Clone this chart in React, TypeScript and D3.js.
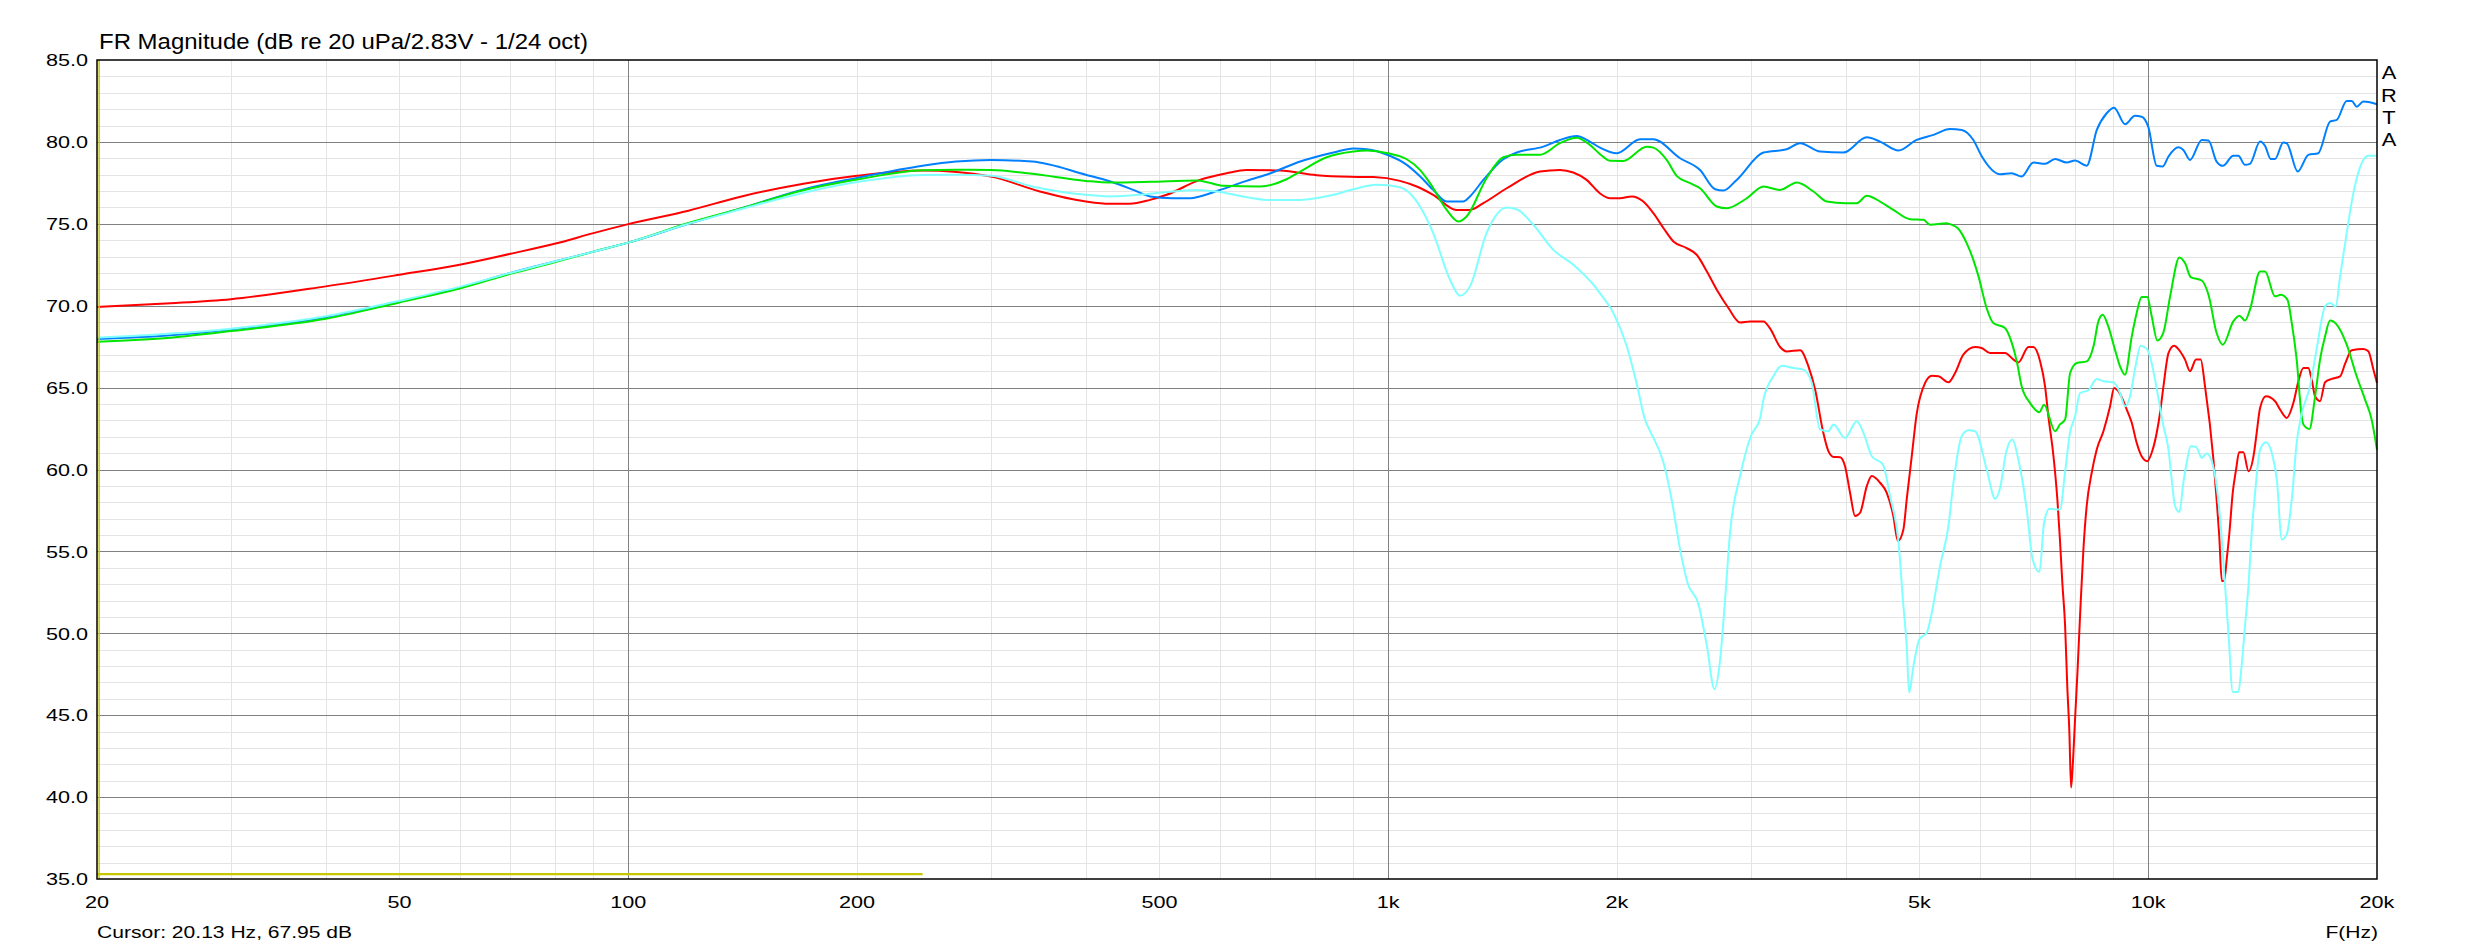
import { useEffect, useRef } from "react";
import * as d3 from "d3";

type Pt = [number, number];

// frequency response curves, [Hz, dB]
const blueCurve: Pt[] = [
  [20, 67.97], [25, 68.2], [30, 68.55], [40, 69.3], [50, 70.25], [60, 71.1], [70, 72.0], [80, 72.7], [90, 73.3],
  [100, 73.85], [120, 75.0], [141, 75.95], [170, 77.1], [200, 77.8], [244, 78.55], [270, 78.8], [300, 78.9],
  [340, 78.8], [400, 78.0], [430, 77.6], [462, 77.07], [486, 76.67], [520, 76.56], [549, 76.56], [565, 76.67],
  [601, 77.07], [651, 77.62], [700, 78.09], [766, 78.8], [800, 79.06], [847, 79.35], [900, 79.6], [937, 79.55],
  [999, 79.2], [1058, 78.6], [1101, 77.9], [1146, 77.07], [1194, 76.36], [1255, 76.36], [1281, 76.67],
  [1334, 77.68], [1417, 78.94], [1476, 79.35], [1600, 79.71], [1683, 80.12], [1770, 80.36], [1842, 80.02],
  [1900, 79.65], [1999, 79.31], [2145, 80.16], [2233, 80.16], [2421, 79.0], [2572, 78.29], [2693, 77.11],
  [2761, 77.03], [2874, 77.68], [3117, 79.35], [3344, 79.55], [3483, 79.92], [3701, 79.41], [3972, 79.35],
  [4263, 80.28], [4438, 80.02], [4693, 79.47], [4957, 80.12], [5218, 80.43], [5486, 80.79], [5684, 80.73],
  [5887, 80.12], [6041, 79.11], [6383, 78.03], [6611, 78.09], [6815, 77.89], [7062, 78.74], [7316, 78.66],
  [7543, 78.96], [7811, 78.74], [8010, 78.86], [8300, 78.54], [8558, 80.73], [8817, 81.75], [9018, 82.09],
  [9321, 81.08], [9604, 81.59], [9803, 81.54], [10000, 80.93], [10261, 78.54], [10451, 78.5], [10633, 79.11],
  [10957, 79.67], [11123, 79.51], [11350, 78.9], [11761, 80.12], [12003, 80.08], [12303, 78.8], [12536, 78.54],
  [12940, 79.15], [13139, 79.15], [13408, 78.6], [13610, 78.66], [14034, 80.02], [14247, 79.76], [14494, 78.96],
  [14686, 78.96], [15054, 79.96], [15213, 79.92], [15729, 78.19], [16244, 79.21], [16743, 79.31], [17348, 81.24],
  [17703, 81.34], [18246, 82.5], [18526, 82.5], [18806, 82.15], [19190, 82.46], [19482, 82.44], [20000, 82.3],
];

const greenCurve: Pt[] = [
  [20, 67.8], [25, 68.05], [30, 68.45], [40, 69.2], [50, 70.2], [60, 71.05], [70, 71.95], [80, 72.65], [90, 73.3],
  [100, 73.85], [120, 75.05], [141, 75.95], [170, 77.05], [200, 77.7], [244, 78.27], [270, 78.3], [300, 78.29],
  [340, 78.05], [400, 77.62], [430, 77.52], [486, 77.56], [560, 77.64], [580, 77.52], [607, 77.32], [678, 77.28],
  [735, 77.72], [766, 78.19], [830, 79.06], [900, 79.41], [937, 79.47], [999, 79.31], [1058, 78.94], [1101, 78.29],
  [1135, 77.48], [1194, 75.85], [1237, 75.14], [1268, 75.45], [1347, 77.78], [1417, 79.06], [1476, 79.21],
  [1584, 79.21], [1683, 79.92], [1770, 80.26], [1842, 79.82], [1900, 79.25], [1958, 78.85], [2039, 78.84],
  [2188, 79.71], [2233, 79.65], [2325, 78.9], [2396, 77.93], [2497, 77.48], [2572, 77.17], [2706, 76.06],
  [2789, 75.95], [2964, 76.56], [3117, 77.28], [3278, 77.07], [3448, 77.52], [3627, 76.97], [3776, 76.36],
  [4000, 76.26], [4135, 76.26], [4263, 76.71], [4438, 76.36], [4620, 75.85], [4861, 75.28], [5062, 75.24],
  [5164, 74.94], [5431, 75.04], [5486, 74.98], [5626, 74.7], [5769, 73.82], [5887, 72.8], [5980, 71.79],
  [6128, 69.86], [6255, 68.94], [6479, 68.64], [6611, 67.76], [6715, 66.6], [6815, 65.08], [6989, 64.07],
  [7192, 63.5], [7293, 63.96], [7543, 62.34], [7653, 62.75], [7774, 63.05], [7893, 65.89], [8053, 66.5],
  [8300, 66.6], [8472, 67.52], [8598, 69.04], [8711, 69.45], [8861, 68.74], [9041, 67.32], [9181, 66.3],
  [9321, 65.79], [9514, 68.13], [9656, 69.55], [9803, 70.53], [9972, 70.53], [10106, 69.35], [10281, 67.87],
  [10472, 68.37], [10686, 70.57], [10990, 72.95], [11180, 72.6], [11374, 71.75], [11761, 71.54], [12003, 70.67],
  [12303, 68.33], [12536, 67.62], [12940, 69.04], [13184, 69.39], [13408, 69.09], [13610, 69.76], [14034, 72.09],
  [14247, 72.09], [14686, 70.57], [14940, 70.67], [15245, 70.37], [15449, 68.94], [15680, 66.71], [15920, 63.25],
  [16002, 62.75], [16296, 62.48], [16580, 64.47], [16830, 66.71], [17089, 68.13], [17348, 69.09], [17703, 68.84],
  [18246, 67.62], [18806, 65.69], [19288, 64.27], [19677, 63.05], [20000, 61.2],
];

const redCurve: Pt[] = [
  [20, 69.92], [25, 70.15], [30, 70.4], [40, 71.18], [50, 71.89], [60, 72.5], [70, 73.17], [80, 73.78], [90, 74.43],
  [100, 74.98], [120, 75.8], [141, 76.67], [170, 77.45], [200, 77.93], [244, 78.25], [300, 77.89], [348, 76.97],
  [400, 76.36], [430, 76.22], [457, 76.22], [486, 76.46], [511, 76.77], [565, 77.68], [613, 78.09], [651, 78.29],
  [721, 78.25], [805, 77.97], [891, 77.87], [956, 77.85], [1036, 77.62], [1090, 77.28], [1146, 76.77], [1230, 75.85],
  [1281, 75.85], [1334, 76.26], [1432, 77.17], [1584, 78.19], [1683, 78.29], [1752, 78.13], [1824, 77.68],
  [1900, 76.85], [1958, 76.56], [2019, 76.56], [2091, 76.67], [2166, 76.36], [2233, 75.65], [2303, 74.73],
  [2373, 73.92], [2470, 73.52], [2546, 73.11], [2626, 72.09], [2706, 70.97], [2803, 69.86], [2904, 68.98],
  [2992, 69.04], [3117, 69.04], [3181, 68.6], [3278, 67.48], [3344, 67.21], [3483, 67.28], [3572, 66.3],
  [3645, 64.88], [3737, 62.24], [3795, 61.12], [3853, 60.77], [3931, 60.75], [3991, 60.2], [4052, 58.58],
  [4114, 57.16], [4177, 57.36], [4263, 58.99], [4328, 59.6], [4438, 59.19], [4529, 58.58], [4620, 57.16],
  [4684, 55.63], [4763, 56.34], [4811, 58.17], [4885, 60.81], [4957, 63.35], [5086, 65.28], [5191, 65.73],
  [5298, 65.69], [5459, 65.32], [5570, 65.89], [5711, 67.01], [5918, 67.48], [6038, 67.42], [6194, 67.11],
  [6479, 67.11], [6650, 66.71], [6749, 66.54], [6957, 67.48], [7062, 67.48], [7208, 66.6], [7316, 65.08],
  [7390, 63.25], [7505, 60.81], [7594, 58.17], [7653, 55.73], [7709, 53.09], [7774, 50.45], [7825, 46.79],
  [7876, 43.9], [7916, 40.59], [7955, 41.9], [8012, 44.76], [8070, 47.6], [8134, 51.06], [8217, 55.12],
  [8299, 57.77], [8426, 59.8], [8556, 61.22], [8731, 62.34], [8909, 63.86], [9018, 64.98], [9135, 64.78],
  [9371, 63.66], [9514, 62.85], [9656, 61.63], [9803, 60.81], [9972, 60.51], [10106, 61.02], [10261, 62.24],
  [10365, 63.46], [10472, 65.08], [10633, 67.11], [10813, 67.56], [11012, 67.22], [11180, 66.71], [11350, 66.0],
  [11560, 66.71], [11723, 66.71], [11878, 65.08], [12184, 60.61], [12303, 58.17], [12401, 55.94], [12498, 53.19],
  [12585, 53.19], [12685, 54.51], [12789, 56.14], [12918, 58.58], [13050, 60.0], [13170, 61.06], [13342, 61.06],
  [13549, 59.9], [13780, 61.02], [13890, 62.24], [14034, 63.76], [14285, 64.47], [14686, 64.17], [14911, 63.66],
  [15213, 63.15], [15525, 64.07], [15761, 65.39], [16002, 66.2], [16244, 66.2], [16409, 65.49], [16580, 64.47],
  [16830, 64.17], [17089, 65.33], [17440, 65.53], [17884, 65.69], [18159, 66.46], [18526, 67.28], [19190, 67.36],
  [19482, 67.22], [19783, 66.1], [20000, 65.28],
];

const cyanCurve: Pt[] = [
  [20, 68.05], [25, 68.3], [30, 68.6], [40, 69.35], [50, 70.3], [60, 71.15], [70, 72.0], [80, 72.7], [90, 73.3],
  [100, 73.85], [120, 75.0], [141, 75.9], [170, 76.9], [200, 77.55], [244, 77.98], [270, 78.0], [300, 77.93],
  [340, 77.28], [400, 76.77], [430, 76.67], [486, 76.83], [560, 77.07], [595, 76.97], [650, 76.63], [692, 76.46],
  [766, 76.46], [847, 76.77], [900, 77.11], [966, 77.38], [1036, 77.23], [1101, 76.06], [1146, 74.43],
  [1206, 71.58], [1243, 70.61], [1281, 71.18], [1347, 74.43], [1432, 76.0], [1476, 75.89], [1552, 74.94],
  [1649, 73.41], [1752, 72.5], [1862, 71.28], [1900, 70.75], [1978, 69.55], [2060, 67.52], [2122, 65.28],
  [2177, 63.05], [2211, 62.34], [2303, 60.41], [2360, 58.17], [2421, 55.12], [2476, 53.09], [2560, 51.77],
  [2626, 49.23], [2687, 46.59], [2734, 48.42], [2775, 52.07], [2817, 56.14], [2904, 59.6], [3000, 62.03],
  [3086, 63.15], [3117, 64.27], [3212, 65.69], [3295, 66.34], [3413, 66.2], [3519, 66.1], [3608, 65.28],
  [3701, 62.44], [3795, 62.34], [3853, 62.75], [3991, 61.93], [4135, 62.95], [4220, 62.24], [4328, 60.81],
  [4475, 60.31], [4574, 58.38], [4693, 55.53], [4763, 51.67], [4811, 49.23], [4846, 46.38], [4910, 48.0],
  [5000, 49.64], [5113, 50.04], [5191, 51.26], [5322, 54.11], [5459, 56.55], [5542, 59.19], [5683, 62.03],
  [5799, 62.4], [5918, 62.34], [6131, 60.0], [6289, 58.21], [6385, 58.88], [6500, 61.02], [6626, 61.83],
  [6747, 60.61], [6920, 57.56], [7047, 54.51], [7192, 53.74], [7294, 56.75], [7413, 57.6], [7655, 57.56],
  [7771, 59.8], [7889, 62.24], [8012, 63.25], [8134, 64.67], [8343, 64.84], [8556, 65.53], [8731, 65.39],
  [9000, 65.33], [9181, 64.67], [9321, 63.86], [9465, 64.47], [9604, 66.1], [9775, 67.56], [9957, 67.36],
  [10054, 66.91], [10208, 65.49], [10472, 62.64], [10633, 61.22], [10737, 59.39], [10846, 57.77], [10990, 57.4],
  [11123, 59.19], [11235, 60.4], [11374, 61.42], [11560, 61.38], [11761, 60.71], [11940, 60.98], [12123, 60.51],
  [12303, 58.99], [12458, 56.55], [12622, 52.89], [12751, 50.04], [12918, 46.42], [13139, 46.42], [13270, 48.0],
  [13408, 50.45], [13549, 52.89], [13683, 56.14], [13823, 58.58], [14034, 61.22], [14285, 61.67], [14539, 61.02],
  [14763, 59.39], [14990, 55.73], [15213, 56.04], [15449, 58.17], [15680, 61.63], [15920, 63.4], [16325, 65.08],
  [16653, 67.32], [17089, 69.96], [17348, 70.16], [17648, 69.96], [17884, 71.79], [18246, 74.43], [18617, 76.87],
  [19190, 78.9], [19482, 79.15], [20000, 79.15],
];

// cursor and marker level
const cursorHz = 20.13;
const cursorDb = 67.95;
const markerLevel: Pt[] = [[20, 35.3], [244, 35.3]];

const xTickLabels: [number, string][] = [
  [20, "20"], [50, "50"], [100, "100"], [200, "200"], [500, "500"],
  [1000, "1k"], [2000, "2k"], [5000, "5k"], [10000, "10k"], [20000, "20k"],
];
const yTicks = [35, 40, 45, 50, 55, 60, 65, 70, 75, 80, 85];
const majorHz = [100, 1000, 10000];

const W = 2473;
const H = 950;
const FONT = "'Liberation Sans', Arial, sans-serif";

export default function App() {
  const svgRef = useRef<SVGSVGElement | null>(null);

  useEffect(() => {
    const svgElement = svgRef.current;
    if (!svgElement) return;

    const margin = { top: 60, right: 96, bottom: 71, left: 97 };
    const left = margin.left;
    const right = W - margin.right;
    const top = margin.top;
    const bottom = H - margin.bottom;

    const svg = d3.select(svgElement);
    svg.selectAll("*").remove();

    const xScale = d3.scaleLog().domain([20, 20000]).range([left, right]);
    const yScale = d3.scaleLinear().domain([35, 85]).range([bottom, top]);
    const crisp = (v: number) => Math.round(v) + 0.5;

    svg.append("rect").attr("width", W).attr("height", H).attr("fill", "#fff");

    // grid: every decade step and every dB
    const gridHz: number[] = [];
    for (let dec = 10; dec <= 10000; dec *= 10) {
      for (let m = 1; m <= 9; m++) {
        const f = m * dec;
        if (f > 20 && f < 20000) gridHz.push(f);
      }
    }
    const gridDb = d3.range(36, 85);

    const grid = svg.append("g").attr("shape-rendering", "crispEdges");
    grid.selectAll(".vminor")
      .data(gridHz.filter((f) => !majorHz.includes(f)))
      .join("line")
      .attr("x1", (d) => crisp(xScale(d))).attr("x2", (d) => crisp(xScale(d)))
      .attr("y1", top).attr("y2", bottom)
      .attr("stroke", "#e4e4e4");
    grid.selectAll(".hminor")
      .data(gridDb.filter((d) => d % 5 !== 0))
      .join("line")
      .attr("x1", left).attr("x2", right)
      .attr("y1", (d) => crisp(yScale(d))).attr("y2", (d) => crisp(yScale(d)))
      .attr("stroke", "#e4e4e4");
    grid.selectAll(".hmajor")
      .data(yTicks.filter((d) => d > 35 && d < 85))
      .join("line")
      .attr("x1", left).attr("x2", right)
      .attr("y1", (d) => crisp(yScale(d))).attr("y2", (d) => crisp(yScale(d)))
      .attr("stroke", "#808080");
    grid.selectAll(".vmajor")
      .data(majorHz)
      .join("line")
      .attr("x1", (d) => crisp(xScale(d))).attr("x2", (d) => crisp(xScale(d)))
      .attr("y1", top).attr("y2", bottom)
      .attr("stroke", "#808080");

    const line = d3.line<Pt>()
      .x((d) => xScale(d[0]))
      .y((d) => yScale(d[1]))
      .curve(d3.curveMonotoneX);

    svg.append("path")
      .datum(markerLevel)
      .attr("fill", "none")
      .attr("stroke", "#c8c800")
      .attr("stroke-width", 2.2)
      .attr("d", d3.line<Pt>().x((d) => xScale(d[0])).y((d) => yScale(d[1])));

    const series: [Pt[], string][] = [
      [redCurve, "#ff0000"],
      [blueCurve, "#0080ff"],
      [greenCurve, "#00e600"],
      [cyanCurve, "#80ffff"],
    ];
    series.forEach(([data, color]) => {
      svg.append("path")
        .datum(data)
        .attr("fill", "none")
        .attr("stroke", color)
        .attr("stroke-width", 2)
        .attr("stroke-linejoin", "round")
        .attr("d", line);
    });

    // cursor
    svg.append("line")
      .attr("x1", xScale(cursorHz)).attr("x2", xScale(cursorHz))
      .attr("y1", top).attr("y2", bottom)
      .attr("stroke", "#c8c800")
      .attr("stroke-width", 1.5);

    svg.append("rect")
      .attr("x", left).attr("y", top)
      .attr("width", right - left).attr("height", bottom - top)
      .attr("fill", "none")
      .attr("stroke", "#000")
      .attr("stroke-width", 1.5);

    const addText = (x: number, y: number, str: string, size: number, anchor: string, sx: number) => {
      svg.append("text")
        .attr("transform", `translate(${x},${y}) scale(${sx},1)`)
        .attr("text-anchor", anchor)
        .attr("font-family", FONT)
        .attr("font-size", size)
        .attr("fill", "#000")
        .text(str);
    };

    addText(99, 48.5, "FR Magnitude (dB re 20 uPa/2.83V - 1/24 oct)", 22, "start", 1.09);

    yTicks.forEach((d) => addText(88, yScale(d) + 6.2, d.toFixed(1), 17, "end", 1.27));
    xTickLabels.forEach(([f, label]) => addText(xScale(f), 908, label, 17, "middle", 1.27));

    addText(left, 938, `Cursor: ${cursorHz.toFixed(2)} Hz, ${cursorDb.toFixed(2)} dB`, 17, "start", 1.24);
    addText(right + 1, 938, "F(Hz)", 17, "end", 1.24);

    ["A", "R", "T", "A"].forEach((ch, i) => addText(2389, 79.3 + i * 22.2, ch, 19, "middle", 1.15));
  }, []);

  return (
    <svg
      ref={svgRef}
      width={W}
      height={H}
      style={{ position: "absolute", left: 0, top: 0, display: "block" }}
    />
  );
}
